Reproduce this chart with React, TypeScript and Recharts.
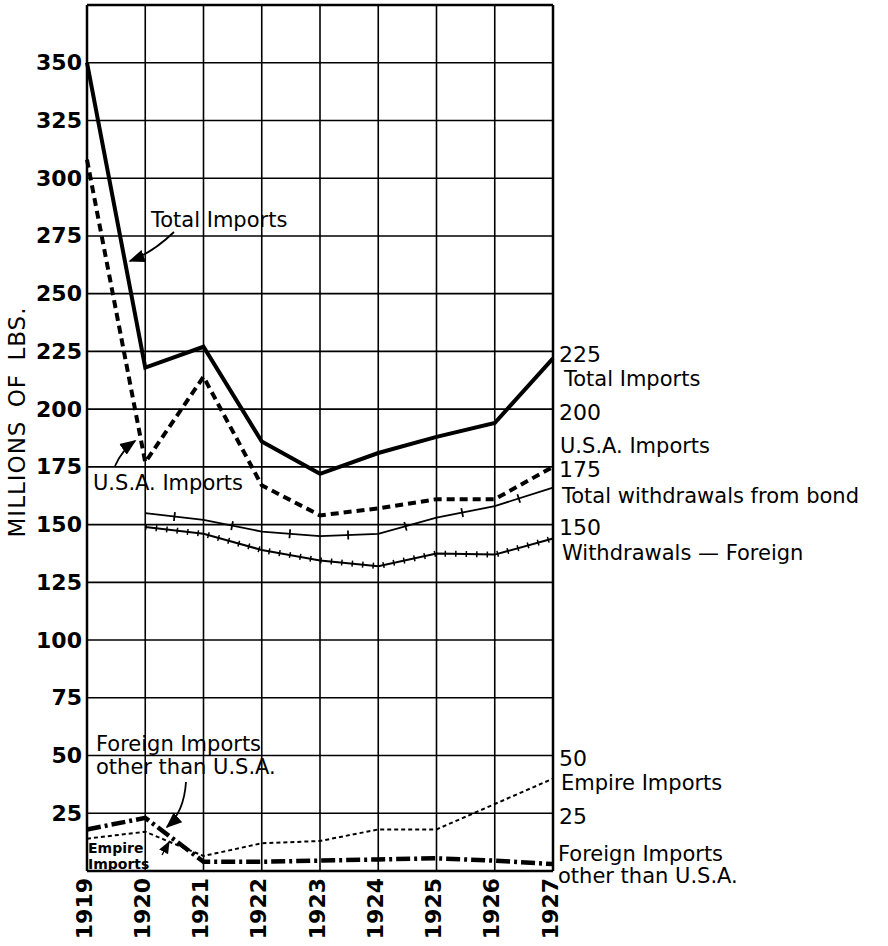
import { CartesianGrid, Line, LineChart, ReferenceLine, XAxis, YAxis } from "recharts"

const years = [1919, 1920, 1921, 1922, 1923, 1924, 1925, 1926, 1927]
const totalImports = [350, 218, 227, 186, 172, 181, 188, 194, 222]
const usaImports = [308, 177, 214, 167, 154, 157, 161, 161, 175]
const totalWithdrawals = [null, 155, 152, 147, 145, 146, 153, 158, 166]
const withdrawalsForeign = [null, 149, 146, 139, 134.5, 132, 137.5, 137, 144]
const empireImports = [14, 17, 6.5, 12, 13, 18, 18, 29, 40]
const foreignOther = [18, 23, 4, 4, 4.5, 5, 5.5, 4.5, 3]

const leftTicks = [0, 25, 50, 75, 100, 125, 150, 175, 200, 225, 250, 275, 300, 325, 350, 375]
const rightTicks = [25, 50, 150, 175, 200, 225]

const data = years.map((year, i) => ({
    year,
    total: totalImports[i],
    usa: usaImports[i],
    withdrawals: totalWithdrawals[i],
    foreignWd: withdrawalsForeign[i],
    empire: empireImports[i],
    other: foreignOther[i],
}))

const font = "DejaVu Sans"

function LeftTick(props: any) {
    const v = props.payload.value
    if (v === 0 || v === 375) return <g />
    return (
        <text x={82} y={props.y} textAnchor="end" dominantBaseline="central"
            fontFamily={font} fontWeight="bold" fontSize={22} fill="#000">{v}</text>
    )
}

function RightTick(props: any) {
    return (
        <text x={559} y={props.y + 3} textAnchor="start" dominantBaseline="central"
            fontFamily={font} fontSize={22} fill="#000">{props.payload.value}</text>
    )
}

function YearTick(props: any) {
    return (
        <text transform={`translate(${props.x - 3},878) rotate(-90)`} textAnchor="end"
            dominantBaseline="central" fontFamily={font} fontWeight="bold" fontSize={22} fill="#000">
            {props.payload.value}
        </text>
    )
}

const txt = { fontFamily: font, fontSize: 21, fill: "#000" }

export default function App() {
    return (
        <div style={{ position: "absolute", left: 0, top: 0, background: "#fff" }}>
            <LineChart width={888} height={946} data={data}
                margin={{ top: 5, right: 0, bottom: 0, left: 0 }}>
                <defs>
                    <marker id="arr" viewBox="0 0 10 10" refX="9" refY="5" markerWidth="9" markerHeight="9" orient="auto">
                        <path d="M0,1 L10,5 L0,9 Z" fill="#000" />
                    </marker>
                </defs>
                <CartesianGrid stroke="#000" strokeWidth={1.6} />
                <XAxis dataKey="year" type="number" domain={[1919, 1927]} ticks={years}
                    height={75} tickLine={false} axisLine={{ stroke: "#000", strokeWidth: 2.5 }}
                    tick={<YearTick />} interval={0} />
                <YAxis yAxisId={0} domain={[0, 375]} ticks={leftTicks} width={87} interval={0}
                    tickLine={false} axisLine={{ stroke: "#000", strokeWidth: 2.5 }} tick={<LeftTick />} />
                <YAxis yAxisId="r" orientation="right" domain={[0, 375]} ticks={rightTicks} width={335} interval={0}
                    tickLine={false} axisLine={{ stroke: "#000", strokeWidth: 2.5 }} tick={<RightTick />} />
                <ReferenceLine y={375} stroke="#000" strokeWidth={2.5} />

                <Line yAxisId="r" dataKey="total" stroke="#000" strokeWidth={4} dot={false} activeDot={false} isAnimationActive={false} />
                <Line dataKey="usa" stroke="#000" strokeWidth={4} strokeDasharray="8 5" dot={false} activeDot={false} isAnimationActive={false} />
                <Line dataKey="withdrawals" stroke="#000" strokeWidth={1.8} dot={false} activeDot={false} isAnimationActive={false} />
                <Line dataKey="withdrawals" stroke="#000" strokeWidth={9} strokeDasharray="1.8 56.6" strokeDashoffset={-28.5}
                    dot={false} activeDot={false} isAnimationActive={false} />
                <Line dataKey="foreignWd" stroke="#000" strokeWidth={2} dot={false} activeDot={false} isAnimationActive={false} />
                <Line dataKey="foreignWd" stroke="#000" strokeWidth={6} strokeDasharray="1.5 9" dot={false} activeDot={false} isAnimationActive={false} />
                <Line dataKey="empire" stroke="#000" strokeWidth={2} strokeDasharray="4 3" dot={false} activeDot={false} isAnimationActive={false} />
                <Line dataKey="other" stroke="#000" strokeWidth={4.5} strokeDasharray="14 4 3 4" dot={false} activeDot={false} isAnimationActive={false} />

                <text x={17} y={422} transform="rotate(-90 17 422)" textAnchor="middle" dominantBaseline="central"
                    fontFamily={font} fontSize={23} letterSpacing={1} wordSpacing={5} fill="#000">MILLIONS OF LBS.</text>

                <text x={151} y={227} {...txt}>Total Imports</text>
                <path d="M174,232 Q152,253 130,261" stroke="#000" strokeWidth={1.8} fill="none" markerEnd="url(#arr)" />
                <text x={93} y={490} {...txt}>U.S.A. Imports</text>
                <path d="M115,466 Q122,450 135,441" stroke="#000" strokeWidth={1.8} fill="none" markerEnd="url(#arr)" />
                <text x={96} y={751} {...txt}>Foreign Imports</text>
                <text x={96} y={774} {...txt}>other than U.S.A.</text>
                <path d="M186,782 Q184,812 167,827" stroke="#000" strokeWidth={1.8} fill="none" markerEnd="url(#arr)" />
                <text x={88} y={853} fontFamily={font} fontWeight="bold" fontSize={14} fill="#000">Empire</text>
                <text x={88} y={869} fontFamily={font} fontWeight="bold" fontSize={14} fill="#000">Imports</text>
                <path d="M162,855 L169,842" stroke="#000" strokeWidth={1.4} fill="none" markerEnd="url(#arr)" />

                <text x={564} y={386} {...txt}>Total Imports</text>
                <text x={560} y={453} {...txt}>U.S.A. Imports</text>
                <text x={562} y={503} {...txt}>Total withdrawals from bond</text>
                <text x={562} y={560} {...txt}>Withdrawals — Foreign</text>
                <text x={561} y={790} {...txt}>Empire Imports</text>
                <text x={558} y={861} {...txt}>Foreign Imports</text>
                <text x={558} y={883} {...txt}>other than U.S.A.</text>
            </LineChart>
        </div>
    )
}
